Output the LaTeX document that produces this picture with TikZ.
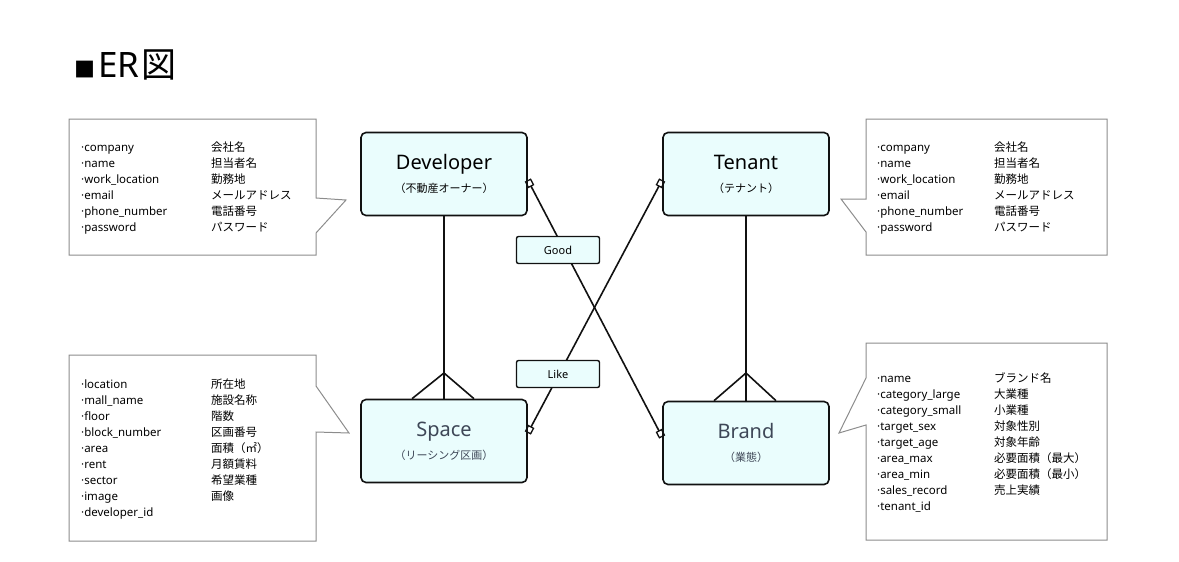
\documentclass[tikz,border=0pt]{standalone}
\usepackage{fontspec}
\setmainfont{Noto Sans}
\newfontfamily\jp{Noto Sans CJK JP}
\usetikzlibrary{arrows.meta, positioning}

\definecolor{entfill}{HTML}{EAFDFD}
\definecolor{entline}{HTML}{111111}
\definecolor{notegray}{HTML}{8C8C8C}
\definecolor{subtext}{HTML}{3E4757}

\newcommand{\jtxt}[1]{{\jp #1}}
\newcommand{\subfont}{\jp\fontsize{11}{13}\selectfont}

\begin{document}
\begin{tikzpicture}[
    x=1pt, y=-1pt,
    entity/.style={rectangle, draw=entline, line width=1.6pt, rounded corners=5pt, fill=entfill, minimum width=166pt, minimum height=83pt, inner sep=0pt, align=center, font=\fontsize{20}{23}\selectfont},
    weak/.style={entity, text=subtext},
    relbox/.style={rectangle, draw=entline, line width=1.4pt, rounded corners=2pt, fill=entfill, minimum width=83pt, minimum height=27pt, inner sep=0pt, font=\fontsize{11}{13}\selectfont},
    link/.style={draw=entline, line width=1.6pt},
    many/.style={link, {Square[open, length=7.5pt, width=7pt, line width=1.3pt]}-{Square[open, length=7.5pt, width=7pt, line width=1.3pt]}},
    note/.style={draw=notegray, line width=1pt},
    attr/.style={anchor=base west, inner sep=0pt, font=\fontsize{11.5}{16}\selectfont},
]
\useasboundingbox (0,0) rectangle (1179,562);

% タイトル
\node[anchor=base west, inner sep=0pt, font=\fontsize{35}{38}\selectfont] (title) at (74,77) {{\jp\fontsize{21}{22}\selectfont ■}\kern3pt ER\kern2pt\jtxt{図}};

% エンティティ
\node[entity] (developer) at (444,174) {Developer\\{\subfont （不動産オーナー）}};
\node[entity] (tenant) at (746,174) {Tenant\\{\subfont （テナント）}};
\node[weak] (space) at (444,441) {Space\\{\subfont （リーシング区画）}};
\node[weak] (brand) at (746,443) {Brand\\{\subfont （業態）}};

% 1対多
\coordinate (spfoot) at (444,373);
\coordinate (brfoot) at (746,373);
\draw[link] (developer) -- (space);
\draw[link] (spfoot) -- ([xshift=-32pt]space.north);
\draw[link] (spfoot) -- ([xshift=30pt]space.north);
\draw[link] (tenant) -- (brand);
\draw[link] (brfoot) -- ([xshift=-32pt]brand.north);
\draw[link] (brfoot) -- ([xshift=30pt]brand.north);

% 多対多
\draw[many] ([yshift=-6pt]developer.east) -- ([yshift=6pt]brand.west);
\draw[many] ([yshift=-6pt]tenant.west) -- ([yshift=8pt]space.east);
\node[relbox] (good) at (558,250) {Good};
\node[relbox] (like) at (558,374) {Like};

% 吹き出し
\draw[note] (69,119) -- (316,119) -- (316,198) -- (346,200) -- (316,233) -- (316,255) -- (69,255) -- cycle;
\draw[note] (866,119) -- (1107,119) -- (1107,255) -- (866,255) -- (866,232) -- (841,199) -- (866,199) -- cycle;
\draw[note] (69,355) -- (316,355) -- (316,386) -- (349,433) -- (316,432) -- (316,541) -- (69,541) -- cycle;
\draw[note] (866,343) -- (1107,343) -- (1107,540) -- (866,540) -- (866,425) -- (839,433) -- (866,378) -- cycle;

% 属性
\node[attr] (devattr) at (81,151) {\begin{tabular}[t]{@{}p{130pt}@{}l@{}}
·company & \jtxt{会社名}\\
·name & \jtxt{担当者名}\\
·work\_location & \jtxt{勤務地}\\
·email & \jtxt{メールアドレス}\\
·phone\_number & \jtxt{電話番号}\\
·password & \jtxt{パスワード}
\end{tabular}};
\node[attr] (tenattr) at (877,151) {\begin{tabular}[t]{@{}p{117pt}@{}l@{}}
·company & \jtxt{会社名}\\
·name & \jtxt{担当者名}\\
·work\_location & \jtxt{勤務地}\\
·email & \jtxt{メールアドレス}\\
·phone\_number & \jtxt{電話番号}\\
·password & \jtxt{パスワード}
\end{tabular}};
\node[attr] (spaattr) at (81,388) {\begin{tabular}[t]{@{}p{130pt}@{}l@{}}
·location & \jtxt{所在地}\\
·mall\_name & \jtxt{施設名称}\\
·floor & \jtxt{階数}\\
·block\_number & \jtxt{区画番号}\\
·area & \jtxt{面積（㎡）}\\
·rent & \jtxt{月額賃料}\\
·sector & \jtxt{希望業種}\\
·image & \jtxt{画像}\\
·developer\_id &
\end{tabular}};
\node[attr] (braattr) at (877,382) {\begin{tabular}[t]{@{}p{117pt}@{}l@{}}
·name & \jtxt{ブランド名}\\
·category\_large & \jtxt{大業種}\\
·category\_small & \jtxt{小業種}\\
·target\_sex & \jtxt{対象性別}\\
·target\_age & \jtxt{対象年齢}\\
·area\_max & \jtxt{必要面積（最大）}\\
·area\_min & \jtxt{必要面積（最小）}\\
·sales\_record & \jtxt{売上実績}\\
·tenant\_id &
\end{tabular}};

\end{tikzpicture}
\end{document}
